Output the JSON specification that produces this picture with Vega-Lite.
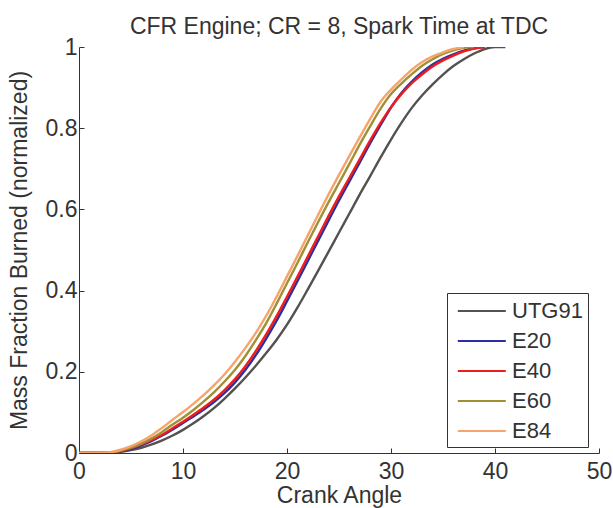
{
  "$schema": "https://vega.github.io/schema/vega-lite/v6.json",
  "width": 520,
  "height": 406,
  "autosize": {"type": "none"},
  "padding": {"left": 79, "top": 47, "right": 14, "bottom": 55},
  "background": "white",
  "title": {
    "text": "CFR Engine; CR = 8, Spark Time at TDC",
    "font": "Liberation Sans",
    "fontSize": 23,
    "fontWeight": "normal",
    "color": "#333333",
    "frame": "group",
    "offset": -3,
    "anchor": "middle"
  },
  "config": {
    "view": {"stroke": null},
    "font": "Liberation Sans",
    "axis": {
      "grid": false,
      "domainColor": "#333333",
      "tickColor": "#333333",
      "labelColor": "#333333",
      "titleColor": "#333333",
      "labelFont": "Liberation Sans",
      "titleFont": "Liberation Sans",
      "labelFontSize": 23,
      "titleFontSize": 23,
      "titleFontWeight": "normal",
      "tickSize": -5,
      "domainWidth": 1,
      "tickWidth": 1
    }
  },
  "data": {
    "values": [
      {"s":"UTG91","x":0,"y":0},{"s":"UTG91","x":1,"y":0},{"s":"UTG91","x":2,"y":0},{"s":"UTG91","x":3,"y":0.001},{"s":"UTG91","x":4,"y":0.003},{"s":"UTG91","x":5,"y":0.007},{"s":"UTG91","x":6,"y":0.013},{"s":"UTG91","x":7,"y":0.021},{"s":"UTG91","x":8,"y":0.031},{"s":"UTG91","x":9,"y":0.043},{"s":"UTG91","x":10,"y":0.057},{"s":"UTG91","x":11,"y":0.073},{"s":"UTG91","x":12,"y":0.091},{"s":"UTG91","x":13,"y":0.111},{"s":"UTG91","x":14,"y":0.134},{"s":"UTG91","x":15,"y":0.159},{"s":"UTG91","x":16,"y":0.186},{"s":"UTG91","x":17,"y":0.215},{"s":"UTG91","x":18,"y":0.246},{"s":"UTG91","x":19,"y":0.279},{"s":"UTG91","x":20,"y":0.316},{"s":"UTG91","x":21,"y":0.358},{"s":"UTG91","x":22,"y":0.403},{"s":"UTG91","x":23,"y":0.449},{"s":"UTG91","x":24,"y":0.496},{"s":"UTG91","x":25,"y":0.543},{"s":"UTG91","x":26,"y":0.59},{"s":"UTG91","x":27,"y":0.637},{"s":"UTG91","x":28,"y":0.682},{"s":"UTG91","x":29,"y":0.728},{"s":"UTG91","x":30,"y":0.772},{"s":"UTG91","x":31,"y":0.813},{"s":"UTG91","x":32,"y":0.85},{"s":"UTG91","x":33,"y":0.881},{"s":"UTG91","x":34,"y":0.908},{"s":"UTG91","x":35,"y":0.932},{"s":"UTG91","x":36,"y":0.953},{"s":"UTG91","x":37,"y":0.97},{"s":"UTG91","x":38,"y":0.984},{"s":"UTG91","x":39,"y":0.995},{"s":"UTG91","x":40,"y":1},{"s":"UTG91","x":41,"y":1},
      {"s":"E20","x":0,"y":0},{"s":"E20","x":1,"y":0},{"s":"E20","x":2,"y":0},{"s":"E20","x":3,"y":0.001},{"s":"E20","x":4,"y":0.004},{"s":"E20","x":5,"y":0.01},{"s":"E20","x":6,"y":0.019},{"s":"E20","x":7,"y":0.03},{"s":"E20","x":8,"y":0.043},{"s":"E20","x":9,"y":0.058},{"s":"E20","x":10,"y":0.074},{"s":"E20","x":11,"y":0.09},{"s":"E20","x":12,"y":0.107},{"s":"E20","x":13,"y":0.126},{"s":"E20","x":14,"y":0.148},{"s":"E20","x":15,"y":0.174},{"s":"E20","x":16,"y":0.205},{"s":"E20","x":17,"y":0.241},{"s":"E20","x":18,"y":0.282},{"s":"E20","x":19,"y":0.326},{"s":"E20","x":20,"y":0.374},{"s":"E20","x":21,"y":0.423},{"s":"E20","x":22,"y":0.473},{"s":"E20","x":23,"y":0.523},{"s":"E20","x":24,"y":0.573},{"s":"E20","x":25,"y":0.622},{"s":"E20","x":26,"y":0.669},{"s":"E20","x":27,"y":0.716},{"s":"E20","x":28,"y":0.763},{"s":"E20","x":29,"y":0.808},{"s":"E20","x":30,"y":0.851},{"s":"E20","x":31,"y":0.887},{"s":"E20","x":32,"y":0.915},{"s":"E20","x":33,"y":0.938},{"s":"E20","x":34,"y":0.957},{"s":"E20","x":35,"y":0.971},{"s":"E20","x":36,"y":0.982},{"s":"E20","x":37,"y":0.991},{"s":"E20","x":38,"y":0.997},{"s":"E20","x":39,"y":1},
      {"s":"E40","x":0,"y":0},{"s":"E40","x":1,"y":0},{"s":"E40","x":2,"y":0},{"s":"E40","x":3,"y":0.001},{"s":"E40","x":4,"y":0.005},{"s":"E40","x":5,"y":0.012},{"s":"E40","x":6,"y":0.021},{"s":"E40","x":7,"y":0.032},{"s":"E40","x":8,"y":0.045},{"s":"E40","x":9,"y":0.061},{"s":"E40","x":10,"y":0.077},{"s":"E40","x":11,"y":0.094},{"s":"E40","x":12,"y":0.112},{"s":"E40","x":13,"y":0.132},{"s":"E40","x":14,"y":0.155},{"s":"E40","x":15,"y":0.182},{"s":"E40","x":16,"y":0.214},{"s":"E40","x":17,"y":0.251},{"s":"E40","x":18,"y":0.292},{"s":"E40","x":19,"y":0.337},{"s":"E40","x":20,"y":0.385},{"s":"E40","x":21,"y":0.434},{"s":"E40","x":22,"y":0.484},{"s":"E40","x":23,"y":0.534},{"s":"E40","x":24,"y":0.584},{"s":"E40","x":25,"y":0.632},{"s":"E40","x":26,"y":0.678},{"s":"E40","x":27,"y":0.724},{"s":"E40","x":28,"y":0.77},{"s":"E40","x":29,"y":0.813},{"s":"E40","x":30,"y":0.852},{"s":"E40","x":31,"y":0.884},{"s":"E40","x":32,"y":0.911},{"s":"E40","x":33,"y":0.933},{"s":"E40","x":34,"y":0.952},{"s":"E40","x":35,"y":0.967},{"s":"E40","x":36,"y":0.979},{"s":"E40","x":37,"y":0.989},{"s":"E40","x":38,"y":0.996},{"s":"E40","x":39,"y":1},
      {"s":"E60","x":0,"y":0},{"s":"E60","x":1,"y":0},{"s":"E60","x":2,"y":0},{"s":"E60","x":3,"y":0.001},{"s":"E60","x":4,"y":0.006},{"s":"E60","x":5,"y":0.013},{"s":"E60","x":6,"y":0.023},{"s":"E60","x":7,"y":0.036},{"s":"E60","x":8,"y":0.052},{"s":"E60","x":9,"y":0.07},{"s":"E60","x":10,"y":0.087},{"s":"E60","x":11,"y":0.106},{"s":"E60","x":12,"y":0.127},{"s":"E60","x":13,"y":0.15},{"s":"E60","x":14,"y":0.176},{"s":"E60","x":15,"y":0.205},{"s":"E60","x":16,"y":0.239},{"s":"E60","x":17,"y":0.278},{"s":"E60","x":18,"y":0.32},{"s":"E60","x":19,"y":0.368},{"s":"E60","x":20,"y":0.418},{"s":"E60","x":21,"y":0.468},{"s":"E60","x":22,"y":0.519},{"s":"E60","x":23,"y":0.569},{"s":"E60","x":24,"y":0.618},{"s":"E60","x":25,"y":0.665},{"s":"E60","x":26,"y":0.712},{"s":"E60","x":27,"y":0.76},{"s":"E60","x":28,"y":0.805},{"s":"E60","x":29,"y":0.848},{"s":"E60","x":30,"y":0.884},{"s":"E60","x":31,"y":0.91},{"s":"E60","x":32,"y":0.933},{"s":"E60","x":33,"y":0.954},{"s":"E60","x":34,"y":0.97},{"s":"E60","x":35,"y":0.983},{"s":"E60","x":36,"y":0.992},{"s":"E60","x":37,"y":0.998},{"s":"E60","x":38,"y":1},
      {"s":"E84","x":0,"y":0},{"s":"E84","x":1,"y":0},{"s":"E84","x":2,"y":0},{"s":"E84","x":3,"y":0.002},{"s":"E84","x":4,"y":0.008},{"s":"E84","x":5,"y":0.017},{"s":"E84","x":6,"y":0.029},{"s":"E84","x":7,"y":0.044},{"s":"E84","x":8,"y":0.062},{"s":"E84","x":9,"y":0.082},{"s":"E84","x":10,"y":0.101},{"s":"E84","x":11,"y":0.121},{"s":"E84","x":12,"y":0.143},{"s":"E84","x":13,"y":0.167},{"s":"E84","x":14,"y":0.194},{"s":"E84","x":15,"y":0.225},{"s":"E84","x":16,"y":0.259},{"s":"E84","x":17,"y":0.296},{"s":"E84","x":18,"y":0.338},{"s":"E84","x":19,"y":0.385},{"s":"E84","x":20,"y":0.435},{"s":"E84","x":21,"y":0.485},{"s":"E84","x":22,"y":0.536},{"s":"E84","x":23,"y":0.587},{"s":"E84","x":24,"y":0.637},{"s":"E84","x":25,"y":0.685},{"s":"E84","x":26,"y":0.732},{"s":"E84","x":27,"y":0.778},{"s":"E84","x":28,"y":0.823},{"s":"E84","x":29,"y":0.865},{"s":"E84","x":30,"y":0.895},{"s":"E84","x":31,"y":0.92},{"s":"E84","x":32,"y":0.944},{"s":"E84","x":33,"y":0.963},{"s":"E84","x":34,"y":0.977},{"s":"E84","x":35,"y":0.987},{"s":"E84","x":36,"y":0.995},{"s":"E84","x":37,"y":1}
    ]
  },
  "mark": {"type": "line", "strokeWidth": 2.4, "interpolate": "monotone", "clip": true},
  "encoding": {
    "x": {
      "field": "x",
      "type": "quantitative",
      "scale": {"domain": [0, 50], "nice": false},
      "axis": {"values": [0, 10, 20, 30, 40, 50], "title": "Crank Angle", "labelPadding": 12, "titlePadding": 1, "labelFlush": false}
    },
    "y": {
      "field": "y",
      "type": "quantitative",
      "scale": {"domain": [0, 1], "nice": false},
      "axis": {"values": [0, 0.2, 0.4, 0.6, 0.8, 1], "format": "~g", "title": "Mass Fraction Burned (normalized)", "labelPadding": 7, "titlePadding": 14, "labelFlush": false}
    },
    "color": {
      "field": "s",
      "type": "nominal",
      "sort": ["UTG91", "E20", "E40", "E60", "E84"],
      "scale": {"domain": ["UTG91", "E20", "E40", "E60", "E84"], "range": ["#555150", "#2e2e9e", "#f01c1c", "#a09035", "#f7a46c"]},
      "legend": {
        "title": null,
        "orient": "none",
        "legendX": 368,
        "legendY": 246,
        "columns": 1,
        "gridAlign": "none",
        "strokeColor": "#333333",
        "fillColor": "white",
        "padding": 5,
        "symbolType": "M-0.6,0H3.4",
        "symbolSize": 576,
        "symbolStrokeWidth": 2,
        "labelFontSize": 22,
        "labelFont": "Liberation Sans",
        "labelColor": "#333333",
        "labelOffset": 34,
        "labelLimit": 80,
        "labelExpr": "datum.label + ' '",
        "rowPadding": 6
      }
    }
  }
}
